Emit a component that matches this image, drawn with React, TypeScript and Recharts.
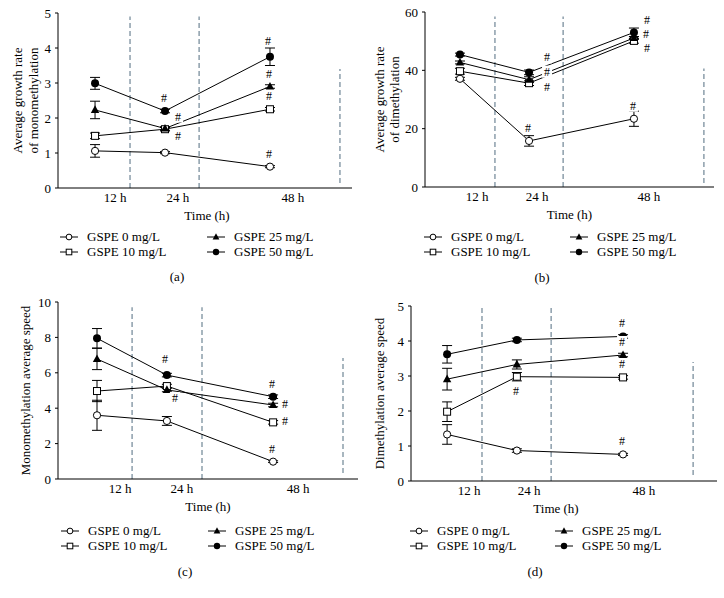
import React from 'react'
import {
  LineChart,
  Line,
  XAxis,
  YAxis,
  ReferenceLine,
  ErrorBar,
  LabelList,
  Label,
} from 'recharts'

const FONT = '"Liberation Serif", "Times New Roman", serif'
const DIVIDER = '#8c9eab'

const doses = ['GSPE 0 mg/L', 'GSPE 10 mg/L', 'GSPE 25 mg/L', 'GSPE 50 mg/L']
const timeLabels = ['12 h', '24 h', '48 h']

// (a) average growth rate of monomethylation
const monoRateMean = [
  [1.06, 1.01, 0.61],
  [1.49, 1.68, 2.25],
  [2.23, 1.7, 2.9],
  [2.99, 2.2, 3.75],
]
const monoRateErr = [
  [0.18, 0.03, 0.03],
  [0.08, 0.05, 0.05],
  [0.25, 0.05, 0.05],
  [0.17, 0.05, 0.25],
]
const monoRateSig = [
  ['', '', 'u'],
  ['', 'dr', 'u'],
  ['', 'ur', 'u'],
  ['', 'u', 'U'],
]

// (b) average growth rate of dimethylation
const diRateMean = [
  [37.1, 15.8, 23.4],
  [39.7, 35.6, 50.1],
  [42.7, 36.8, 51.1],
  [45.4, 39.3, 53.0],
]
const diRateErr = [
  [0.5, 1.8, 2.6],
  [1.0, 0.8, 0.8],
  [0.5, 1.0, 0.5],
  [0.5, 0.8, 1.5],
]
const diRateSig = [
  ['', 'u', 'u'],
  ['', 'dR', 'dr'],
  ['', 'R', 'mr'],
  ['', 'uR', 'ur'],
]

// (c) monomethylation average speed
const monoSpeedMean = [
  [3.6, 3.28, 0.98],
  [4.97, 5.25, 3.2],
  [6.78, 5.03, 4.18],
  [7.95, 5.87, 4.65],
]
const monoSpeedErr = [
  [0.85, 0.25, 0.05],
  [0.6, 0.1, 0.1],
  [0.6, 0.1, 0.1],
  [0.55, 0.1, 0.1],
]
const monoSpeedSig = [
  ['', '', 'u'],
  ['', '', 'r'],
  ['', 'br', 'r'],
  ['', 'U', 'u'],
]

// (d) dimethylation average speed
const diSpeedMean = [
  [1.33, 0.87, 0.76],
  [1.98, 2.98, 2.96],
  [2.91, 3.33, 3.6],
  [3.62, 4.03, 4.13],
]
const diSpeedErr = [
  [0.28, 0.05, 0.03],
  [0.28, 0.12, 0.05],
  [0.31, 0.13, 0.05],
  [0.25, 0.05, 0.05],
]
const diSpeedSig = [
  ['', '', 'u'],
  ['', 'd', 'u'],
  ['', '', 'u'],
  ['', '', 'u'],
]

type Shape = 'openCircle' | 'openSquare' | 'triangle' | 'circle'
const shapes: Shape[] = ['openCircle', 'openSquare', 'triangle', 'circle']

// where the "#" sits relative to its point
const hashOffset: Record<string, [number, number]> = {
  u: [-1, -13],
  U: [-2, -16],
  d: [-1, 14],
  r: [12, -1],
  mr: [12, -4],
  ur: [13, -12],
  dr: [13, 7],
  R: [18, -8],
  uR: [18, -15],
  dR: [18, 4],
  br: [8, 8],
}

function Marker({ shape, cx, cy, s = 1 }: { shape: Shape; cx: number; cy: number; s?: number }) {
  if (shape === 'openCircle')
    return <circle cx={cx} cy={cy} r={3.6 * s} fill="#fff" stroke="#000" strokeWidth={1} />
  if (shape === 'openSquare') {
    const h = 3.5 * s
    return <rect x={cx - h} y={cy - h} width={2 * h} height={2 * h} fill="#fff" stroke="#000" strokeWidth={1} />
  }
  if (shape === 'triangle') {
    const w = 4.2 * s
    return (
      <polygon
        points={`${cx},${cy - 4.6 * s} ${cx - w},${cy + 3 * s} ${cx + w},${cy + 3 * s}`}
        fill="#000"
      />
    )
  }
  return <circle cx={cx} cy={cy} r={4 * s} fill="#000" />
}

interface PanelCfg {
  id: string
  left: number
  top: number
  yWidth: number
  mTop: number
  mRight: number
  xHeight: number
  yMax: number
  yTicks: number[]
  title: string[]
  titleX: number[]
  mean: number[][]
  err: number[][]
  sig: string[][]
  pos: number[]
  labelPos: number[]
  dividers: number[][]
  timeDx: number
  legendX: number[]
  legendY: number
  caption: string
  captionX: number
  captionY: number
}

const panels: PanelCfg[] = [
  {
    id: 'a', left: 0, top: 0, yWidth: 58, mTop: 13, mRight: 10, xHeight: 42,
    yMax: 5, yTicks: [0, 1, 2, 3, 4, 5],
    title: ['Average growth rate', 'of monomethylation'], titleX: [17, 33],
    mean: monoRateMean, err: monoRateErr, sig: monoRateSig,
    pos: [12.6, 36.4, 72.1], labelPos: [19.4, 40.8, 79.9],
    dividers: [[24.5, 0, 4.9], [48, 0, 4.9], [95.9, 0.14, 3.4]],
    timeDx: 2, legendX: [60, 207], legendY: 237,
    caption: '(a)', captionX: 177, captionY: 277,
  },
  {
    id: 'b', left: 362, top: 0, yWidth: 63, mTop: 12, mRight: 10, xHeight: 43,
    yMax: 60, yTicks: [0, 20, 40, 60],
    title: ['Average growth rate', 'of dimethylation'], titleX: [17, 32],
    mean: diRateMean, err: diRateErr, sig: diRateSig,
    pos: [12.1, 36.0, 72.3], labelPos: [18.0, 38.8, 77.5],
    dividers: [[24.2, 0, 58.5], [47.8, 0, 58.5], [96.5, 1.4, 40.6]],
    timeDx: 0, legendX: [62, 208], legendY: 237,
    caption: '(b)', captionX: 180, captionY: 278,
  },
  {
    id: 'c', left: 0, top: 290, yWidth: 58, mTop: 12, mRight: 4, xHeight: 41,
    yMax: 10, yTicks: [0, 2, 4, 6, 8, 10],
    title: ['Monomethylation average speed'], titleX: [25],
    mean: monoSpeedMean, err: monoSpeedErr, sig: monoSpeedSig,
    pos: [13.0, 36.3, 71.7], labelPos: [20.7, 41.3, 80.0],
    dividers: [[24.7, 0, 9.7], [48, 0, 9.7], [95, 0.34, 6.84]],
    timeDx: 0, legendX: [61, 208], legendY: 241,
    caption: '(c)', captionX: 185, captionY: 282,
  },
  {
    id: 'd', left: 362, top: 290, yWidth: 49, mTop: 16, mRight: 7, xHeight: 39,
    yMax: 5, yTicks: [0, 1, 2, 3, 4, 5],
    title: ['Dimethylation average speed'], titleX: [17],
    mean: diSpeedMean, err: diSpeedErr, sig: diSpeedSig,
    pos: [11.8, 34.6, 69.3], labelPos: [19.0, 38.6, 76.1],
    dividers: [[23.2, 0, 4.94], [45.8, 0, 4.94], [92.2, 0.17, 3.4]],
    timeDx: -8, legendX: [48, 193], legendY: 241,
    caption: '(d)', captionX: 173, captionY: 282,
  },
]

const CH_W = 362
const CH_H = 230

function Panel({ cfg }: { cfg: PanelCfg }) {
  const rows = timeLabels.map((_, i) => {
    const row: Record<string, number> = { pos: cfg.pos[i] }
    cfg.mean.forEach((s, k) => {
      row['v' + k] = s[i]
      row['e' + k] = cfg.err[k][i]
    })
    return row
  })
  const plotH = CH_H - cfg.mTop - cfg.xHeight
  const midY = cfg.mTop + plotH / 2

  return (
    <div style={{ position: 'absolute', left: cfg.left, top: cfg.top, width: CH_W, height: 300 }}>
      <LineChart
        width={CH_W}
        height={CH_H}
        data={rows}
        margin={{ top: cfg.mTop, right: cfg.mRight, bottom: 0, left: 0 }}
        style={{ overflow: 'visible' }}
      >
        <XAxis
          type="number"
          dataKey="pos"
          domain={[0, 100]}
          ticks={cfg.labelPos}
          interval={0}
          height={cfg.xHeight}
          tickLine={false}
          tickSize={0}
          tickMargin={0}
          axisLine={{ stroke: '#000', strokeWidth: 1 }}
          tick={(p: any) => (
            <text
              x={p.x}
              y={p.y + 9}
              textAnchor="middle"
              dominantBaseline="central"
              fontSize={13}
              fontFamily={FONT}
              fill="#000"
            >
              {timeLabels[p.index]}
            </text>
          )}
        >
          <Label
            content={(p: any) => (
              <text
                x={p.viewBox.x + p.viewBox.width / 2 + cfg.timeDx}
                y={p.viewBox.y + 27}
                textAnchor="middle"
                dominantBaseline="central"
                fontSize={13}
                fontFamily={FONT}
                fill="#000"
              >
                Time (h)
              </text>
            )}
          />
        </XAxis>
        <YAxis
          type="number"
          domain={[0, cfg.yMax]}
          ticks={cfg.yTicks}
          interval={0}
          width={cfg.yWidth}
          tickSize={3}
          tickMargin={4}
          axisLine={{ stroke: '#000', strokeWidth: 1 }}
          tickLine={{ stroke: '#000' }}
          tick={{ fill: '#000', fontSize: 13, fontFamily: FONT }}
        >
          <Label
            content={() => (
              <g>
                {cfg.title.map((t, i) => (
                  <text
                    key={t}
                    x={cfg.titleX[i]}
                    y={midY}
                    transform={`rotate(-90 ${cfg.titleX[i]} ${midY})`}
                    textAnchor="middle"
                    dominantBaseline="central"
                    fontSize={13}
                    fontFamily={FONT}
                    fill="#000"
                  >
                    {t}
                  </text>
                ))}
              </g>
            )}
          />
        </YAxis>
        {cfg.dividers.map((d, i) => (
          <ReferenceLine
            key={'div' + i}
            segment={[
              { x: d[0], y: d[1] },
              { x: d[0], y: d[2] },
            ]}
            stroke={DIVIDER}
            strokeWidth={1.5}
            strokeDasharray="5 3"
            ifOverflow="visible"
          />
        ))}
        {cfg.mean.map((_, k) => (
          <Line
            key={'s' + k}
            type="linear"
            dataKey={'v' + k}
            name={doses[k]}
            stroke="#000"
            strokeWidth={1}
            isAnimationActive={false}
            activeDot={false}
            dot={(p: any) => (
              <Marker key={`m${k}-${p.index}`} shape={shapes[k]} cx={p.cx} cy={p.cy} />
            )}
          >
            <ErrorBar dataKey={'e' + k} width={5} stroke="#000" strokeWidth={1} direction="y" />
          </Line>
        ))}
        {/* significance marks drawn last so their white boxes sit over the lines */}
        {cfg.mean.map((_, k) => (
          <Line
            key={'h' + k}
            type="linear"
            dataKey={'v' + k}
            stroke="none"
            dot={false}
            activeDot={false}
            legendType="none"
            isAnimationActive={false}
          >
            <LabelList
              dataKey={'v' + k}
              content={(p: any) => {
                const code = cfg.sig[k][p.index]
                if (!code) return null
                const [dx, dy] = hashOffset[code]
                const x = p.x + dx
                const y = p.y + dy
                return (
                  <g key={`h${k}-${p.index}`}>
                    <rect x={x - 5} y={y - 6} width={10} height={12} fill="#fff" />
                    <text
                      x={x}
                      y={y}
                      textAnchor="middle"
                      dominantBaseline="central"
                      fontSize={12}
                      fontFamily={FONT}
                      style={{ fill: '#000', stroke: 'none', fontVariantEmoji: 'text' } as any}
                    >
                      {'#\uFE0E'}
                    </text>
                  </g>
                )
              }}
            />
          </Line>
        ))}
      </LineChart>
      {doses.map((d, k) => {
        const col = k < 2 ? 0 : 1
        const row = k % 2
        const x = cfg.legendX[col]
        const y = cfg.legendY + row * 15
        return (
          <div
            key={d}
            style={{
              position: 'absolute',
              left: x,
              top: y - 8,
              height: 16,
              display: 'flex',
              alignItems: 'center',
              whiteSpace: 'nowrap',
              fontFamily: FONT,
              fontSize: 13,
              color: '#000',
              lineHeight: '16px',
            }}
          >
            <svg width={27} height={16} style={{ display: 'block' }}>
              <line x1={0} y1={8} x2={18} y2={8} stroke="#000" strokeWidth={1} />
              <Marker shape={shapes[k]} cx={9} cy={8} s={0.8} />
            </svg>
            <span>{d}</span>
          </div>
        )
      })}
      <div
        style={{
          position: 'absolute',
          left: cfg.captionX - 20,
          top: cfg.captionY - 8,
          width: 40,
          textAlign: 'center',
          fontFamily: FONT,
          fontSize: 13,
          lineHeight: '16px',
          color: '#000',
        }}
      >
        {cfg.caption}
      </div>
    </div>
  )
}

export default function App() {
  return (
    <div
      style={{
        position: 'absolute',
        left: 0,
        top: 0,
        width: 724,
        height: 598,
        background: '#fff',
        overflow: 'hidden',
      }}
    >
      {panels.map((p) => (
        <Panel key={p.id} cfg={p} />
      ))}
    </div>
  )
}
